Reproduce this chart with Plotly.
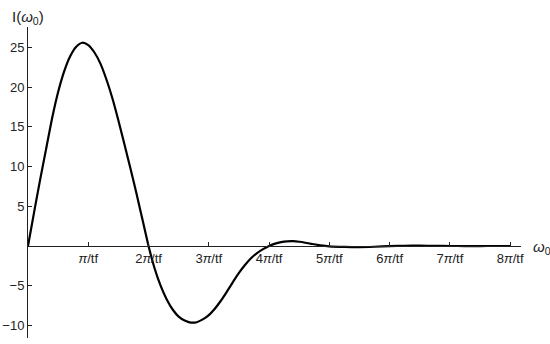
import plotly.graph_objects as go

# omega0 in units of pi/tf, and I(omega0)
omega = [0.0, 0.1, 0.2, 0.3, 0.4, 0.5, 0.6, 0.7, 0.8, 0.9,
         1.0, 1.1, 1.2, 1.3, 1.4, 1.5, 1.6, 1.7, 1.8, 1.9,
         2.0, 2.1, 2.2, 2.3, 2.4, 2.5, 2.6, 2.7, 2.8, 2.9,
         3.0, 3.1, 3.2, 3.3, 3.4, 3.5, 3.6, 3.7, 3.8, 3.9,
         4.0, 4.1, 4.2, 4.3, 4.4, 4.5, 4.6, 4.7, 4.8, 4.9,
         5.0, 5.25, 5.5, 5.75, 6.0, 6.25, 6.5, 6.75, 7.0, 7.25,
         7.5, 7.75, 8.0]
intensity = [0.0, 4.2, 8.3, 12.2, 16.1, 19.4, 22.0, 23.9, 25.1, 25.6,
             25.3, 24.4, 23.0, 21.0, 18.6, 15.8, 12.8, 9.75, 6.6, 3.3,
             0.0, -2.8, -5.0, -6.7, -8.0, -8.9, -9.4, -9.65, -9.6, -9.25,
             -8.7, -7.9, -6.9, -5.75, -4.55, -3.4, -2.4, -1.55, -0.9, -0.4,
             0.0, 0.3, 0.48, 0.58, 0.6, 0.53, 0.41, 0.27, 0.14, 0.04,
             -0.04, -0.12, -0.15, -0.1, -0.02, 0.03, 0.04, 0.02, 0.0, -0.01,
             -0.01, 0.0, 0.0]

x_ticks = [1, 2, 3, 4, 5, 6, 7, 8]
x_labels = ['<i>π</i>/tf'] + [f'{n}<i>π</i>/tf' for n in x_ticks[1:]]
y_ticks = [-10, -5, 5, 10, 15, 20, 25]
y_labels = ['−10', '−5', '5', '10', '15', '20', '25']

x_range = [0, 8.18]
y_range = [-11.59, 27.58]
x_axis_pos = -y_range[0] / (y_range[1] - y_range[0])

font = 'Liberation Sans, Arial, sans-serif'

fig = go.Figure(go.Scatter(
    x=omega,
    y=intensity,
    mode='lines',
    line=dict(color='black', width=2.2, shape='spline', smoothing=0.6),
    hoverinfo='skip',
))

fig.update_layout(
    width=550,
    height=344,
    plot_bgcolor='white',
    paper_bgcolor='white',
    showlegend=False,
    margin=dict(l=28, r=29, t=27, b=6),
    font=dict(family=font, size=13, color='#222'),
    xaxis=dict(
        range=x_range,
        anchor='free',
        position=x_axis_pos,
        automargin=False,
        showline=True,
        linecolor='#222',
        linewidth=1,
        showgrid=False,
        zeroline=False,
        ticks='inside',
        ticklen=4,
        tickcolor='#222',
        tickvals=x_ticks,
        ticktext=x_labels,
        tickfont=dict(family=font, size=13, color='#222'),
    ),
    yaxis=dict(
        range=y_range,
        domain=[0, 1],
        automargin=False,
        showline=True,
        linecolor='#222',
        linewidth=1,
        showgrid=False,
        zeroline=False,
        ticks='inside',
        ticklen=4,
        tickcolor='#222',
        tickvals=y_ticks,
        ticktext=y_labels,
        tickfont=dict(family=font, size=13, color='#222'),
    ),
    annotations=[
        dict(text='I(<i>ω</i><sub>0</sub>)', xref='paper', yref='paper',
             x=-0.0365, y=1.029, xanchor='left', yanchor='middle',
             showarrow=False, font=dict(family=font, size=15, color='#222')),
        dict(text='<i>ω</i><sub>0</sub>', xref='paper', yref='paper',
             x=1.021, y=x_axis_pos - 0.006, xanchor='left', yanchor='middle',
             showarrow=False, font=dict(family=font, size=15, color='#222')),
    ],
)

# drop the browser's default 8px body margin so the figure sits at the page corner
fig.write_html('out.html', config={'displayModeBar': False},
               post_script="document.body.style.margin='0';")
